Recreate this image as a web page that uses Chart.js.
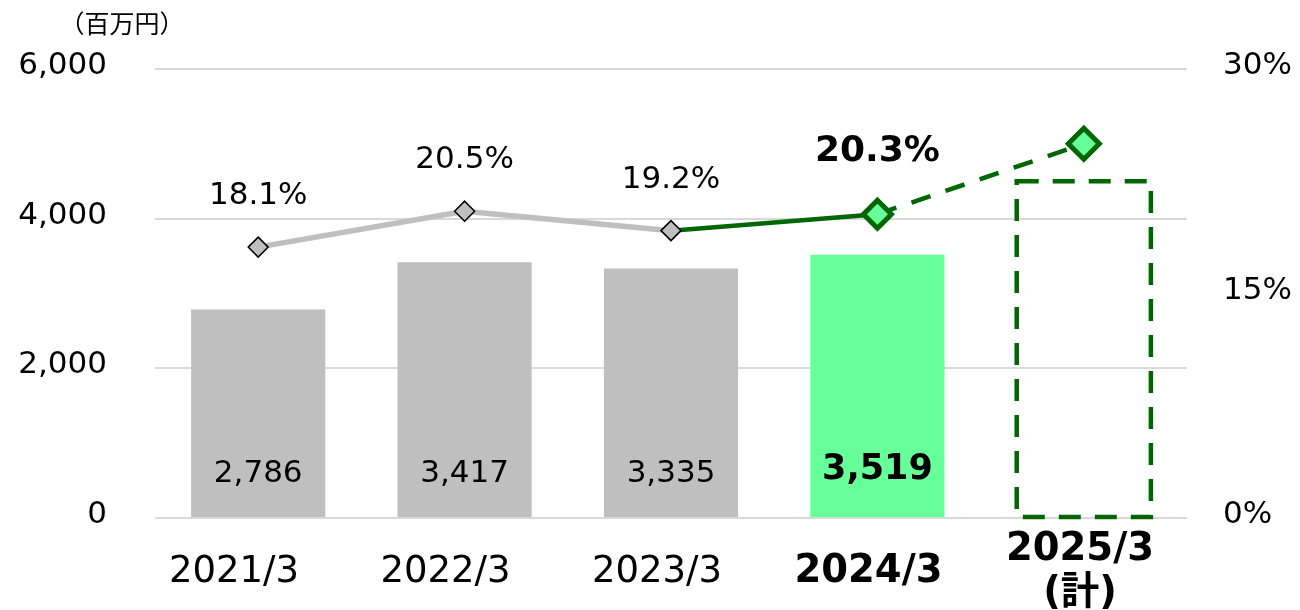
<!DOCTYPE html>
<html lang="ja">
<head>
<meta charset="utf-8">
<title>営業利益・営業利益率</title>
<script src="https://cdn.jsdelivr.net/npm/chart.js@4.4.1/dist/chart.umd.min.js"></script>
<style>
    html, body { margin: 0; padding: 0; background: #fff; }
    #wrap { width: 1300px; height: 610px; }
</style>
</head>
<body>
<div id="wrap"><canvas id="chart" width="1300" height="610"></canvas></div>
<script>
// ── Data ────────────────────────────────────────────────────────────────
const categories   = [['2021/3'], ['2022/3'], ['2023/3'], ['2024/3'], ['2025/3', '(計)']];
const profitValues = [2786, 3417, 3335, 3519, 4500];   // 百万円 (last one = plan)
const marginValues = [18.1, 20.5, 19.2, 20.3, 25.0];   // % (last one = plan, no label)
const leftTicks    = [0, 2000, 4000, 6000];
const rightTicks   = [0, 15, 30];
const unitLabel    = '（百万円）';

// ── Look ────────────────────────────────────────────────────────────────
const FONT = '"DejaVu Sans", "Noto Sans CJK JP", sans-serif';
const GRAY = '#bfbfbf';
const GREEN = '#006600';
const LIGHT_GREEN = '#66ff99';
const CURRENT = 3;   // index of the latest actual year
const PLAN = 4;      // index of the plan year

// the year labels in the original sit on a slightly wider pitch than the bars,
// so they get their own linear axis
const LABEL_AXIS_MIN = -0.3735;
const LABEL_AXIS_MAX = 4.506;

const labelPlugin = {
    id: 'valueLabels',
    afterDatasetsDraw(chart) {
        const ctx = chart.ctx;
        const bars = chart.getDatasetMeta(0).data;
        const pts = chart.getDatasetMeta(1).data;
        const base = chart.scales.y.getPixelForValue(0);

        ctx.save();

        // dashed box for the plan bar
        const b = bars[PLAN];
        const l = b.x - b.width / 2, r = b.x + b.width / 2;
        ctx.strokeStyle = GREEN;
        ctx.lineWidth = 4.5;
        ctx.setLineDash([22, 14]);
        ctx.beginPath();
        ctx.moveTo(l, b.y);
        ctx.lineTo(r, b.y);
        ctx.lineTo(r, b.base);
        ctx.lineTo(l, b.base);
        ctx.closePath();
        ctx.stroke();
        ctx.setLineDash([]);

        ctx.fillStyle = '#000';
        ctx.textAlign = 'center';
        ctx.textBaseline = 'middle';

        // bar values
        profitValues.forEach((v, i) => {
            if (i === PLAN) return;
            const bold = i === CURRENT;
            ctx.font = (bold ? 'bold 35px ' : '31px ') + FONT;
            ctx.fillText(v.toLocaleString('en-US'), bars[i].x, base - (bold ? 48 : 44));
        });

        // margin labels
        marginValues.forEach((v, i) => {
            if (i === PLAN) return;
            const bold = i === CURRENT;
            ctx.font = (bold ? 'bold 36px ' : '31px ') + FONT;
            ctx.fillText(v.toFixed(1) + '%', pts[i].x, pts[i].y - (bold ? 63 : 51));
        });

        // unit
        ctx.font = '25px "Noto Sans CJK JP", sans-serif';
        ctx.fillText(unitLabel, 122, 23);

        ctx.restore();
    }
};

new Chart(document.getElementById('chart'), {
    data: {
        labels: categories,
        datasets: [{
            type: 'bar',
            data: profitValues,
            yAxisID: 'y',
            order: 1,
            backgroundColor: profitValues.map((v, i) =>
                i === PLAN ? 'rgba(0,0,0,0)' : (i === CURRENT ? LIGHT_GREEN : GRAY)),
            borderWidth: 0,
            barPercentage: 0.65,
            categoryPercentage: 1
        }, {
            type: 'line',
            data: marginValues,
            yAxisID: 'y1',
            order: 0,
            borderColor: GREEN,
            borderWidth: 5,
            pointStyle: 'rectRot',
            pointRadius: [10, 10, 10, 14, 15.5],
            pointBackgroundColor: marginValues.map((v, i) => i < CURRENT ? GRAY : LIGHT_GREEN),
            pointBorderColor: marginValues.map((v, i) => i < CURRENT ? '#000' : GREEN),
            pointBorderWidth: marginValues.map((v, i) => i < CURRENT ? 1.5 : 5),
            segment: {
                borderColor: c => c.p1DataIndex < CURRENT ? GRAY : GREEN,
                borderWidth: c => c.p1DataIndex < CURRENT ? 5.5 : 4.5,
                borderDash: c => c.p1DataIndex === PLAN ? [20, 16] : []
            }
        }]
    },
    options: {
        responsive: false,
        animation: false,
        layout: { padding: { top: 69, bottom: 0, left: 0, right: 0 } },
        plugins: { legend: { display: false }, tooltip: { enabled: false } },
        scales: {
            x: {
                display: false
            },
            xLabels: {
                type: 'linear',
                position: 'bottom',
                min: LABEL_AXIS_MIN,
                max: LABEL_AXIS_MAX,
                afterBuildTicks: s => { s.ticks = categories.map((c, i) => ({ value: i })); },
                grid: { display: false, drawTicks: false },
                border: { display: false },
                ticks: {
                    color: '#000',
                    padding: 32,
                    autoSkip: false,
                    maxRotation: 0,
                    crossAlign: 'center',
                    callback: v => categories[v],
                    font: c => ({ family: FONT, size: c.index >= CURRENT ? 38.5 : 37,
                                  lineHeight: 1.14,
                                  weight: c.index >= CURRENT ? 'bold' : 'normal' })
                },
                afterFit: s => { s.height = 92; }
            },
            y: {
                position: 'left',
                min: 0,
                max: 6000,
                afterBuildTicks: s => { s.ticks = leftTicks.map(v => ({ value: v })); },
                grid: { color: '#d9d9d9', lineWidth: 2, drawTicks: false },
                border: { display: false },
                ticks: {
                    color: '#000',
                    padding: 48,
                    labelOffset: -3,
                    font: { family: FONT, size: 31 },
                    callback: v => v.toLocaleString('en-US')
                },
                afterFit: s => { s.width = 155; }
            },
            y1: {
                position: 'right',
                min: 0,
                max: 30,
                afterBuildTicks: s => { s.ticks = rightTicks.map(v => ({ value: v })); },
                grid: { display: false, drawTicks: false },
                border: { display: false },
                ticks: {
                    color: '#000',
                    padding: 36,
                    labelOffset: -3,
                    font: { family: FONT, size: 31 },
                    callback: v => v + '%'
                },
                afterFit: s => { s.width = 113; }
            }
        }
    },
    plugins: [labelPlugin]
});
</script>
</body>
</html>
